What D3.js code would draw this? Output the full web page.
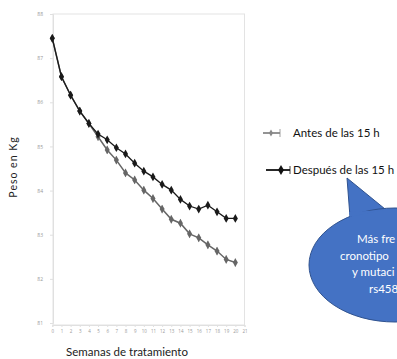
<!DOCTYPE html>
<html><head><meta charset="utf-8">
<script src="https://cdn.jsdelivr.net/npm/d3@7"></script>
<style>html,body{margin:0;padding:0;background:#fff;overflow:hidden}svg{display:block}</style>
</head><body>
<svg id="c" width="397" height="359"></svg>
<script>
const weeks = d3.range(0, 21);
const xTickLabels = d3.range(0, 22).map(String);
const yTicks = [81, 82, 83, 84, 85, 86, 87, 88];
const antes = [87.45, 86.58, 86.16, 85.80, 85.52, 85.22, 84.92, 84.69, 84.40, 84.24, 84.01, 83.82, 83.58, 83.35, 83.26, 83.02, 82.93, 82.77, 82.63, 82.44, 82.37];
const despues = [87.45, 86.58, 86.16, 85.80, 85.52, 85.28, 85.15, 84.97, 84.83, 84.62, 84.44, 84.31, 84.14, 84.01, 83.80, 83.65, 83.58, 83.67, 83.52, 83.37, 83.37];
const seriesNames = ["Antes de las 15 h", "Después de las 15 h"];
const bubbleLines = ["Más fre", "cronotipo", "y mutaci", "rs458"];

const svg = d3.select("#c");
const x = d3.scaleLinear().domain([0, 21]).range([52.3, 244.5]);
const y = d3.scaleLinear().domain([81, 88]).range([323, 14]);

// frame
svg.append("rect").attr("x", 53).attr("y", 14).attr("width", 191.5).attr("height", 311)
  .attr("fill", "none").attr("stroke", "#e3e3e3").attr("stroke-width", 1);

// y axis ticks
const ya = svg.append("g").attr("transform", "translate(53,0)")
  .call(d3.axisLeft(y).tickValues(yTicks).tickSize(3).tickFormat(d3.format("d")));
ya.select(".domain").attr("stroke", "#e0e0e0");
ya.selectAll(".tick line").attr("stroke", "#e0e0e0");
ya.selectAll("text").attr("font-size", 5).attr("fill", "#999").attr("font-family", "Open Sans").attr("x", -10);

// x axis ticks
const xa = svg.append("g").attr("transform", "translate(0,325)")
  .call(d3.axisBottom(x).tickValues(d3.range(0, 22)).tickSize(2).tickFormat(i => xTickLabels[i]));
xa.select(".domain").attr("stroke", "#e0e0e0");
xa.selectAll(".tick line").attr("stroke", "#e0e0e0");
xa.selectAll("text").attr("font-size", 4.5).attr("fill", "#999").attr("font-family", "Open Sans").attr("y", 5);

const line = d3.line().x((d, i) => x(i)).y(d => y(d));
const diamond = d3.symbol().type(d3.symbolDiamond).size(22);

function drawSeries(vals, color, err, w) {
  const g = svg.append("g");
  g.append("path").datum(vals).attr("d", line).attr("fill", "none").attr("stroke", color).attr("stroke-width", w);
  g.selectAll("line.err").data(vals).join("line").attr("class", "err")
    .attr("x1", (d, i) => x(i)).attr("x2", (d, i) => x(i))
    .attr("y1", d => y(d) - err).attr("y2", d => y(d) + err)
    .attr("stroke", color).attr("stroke-width", 0.8).attr("opacity", 0.6);
  g.selectAll("path.m").data(vals).join("path").attr("class", "m")
    .attr("d", diamond).attr("transform", (d, i) => `translate(${x(i)},${y(d)})`)
    .attr("fill", color);
}
drawSeries(antes, "#666", 4, 1.5);
drawSeries(despues, "#1a1a1a", 3, 1.3);

// legend
const leg = [{y: 133, color: "#888", x1: 263, x2: 280}, {y: 170, color: "#111", x1: 266, x2: 290}];
leg.forEach((l, i) => {
  svg.append("line").attr("x1", l.x1).attr("x2", l.x2).attr("y1", l.y).attr("y2", l.y)
    .attr("stroke", l.color).attr("stroke-width", 1.8);
  svg.append("path").attr("d", d3.symbol().type(d3.symbolDiamond).size(i ? 30 : 14)())
    .attr("transform", `translate(${l.x2 - 9},${l.y})`).attr("fill", l.color);
  svg.append("line").attr("x1", l.x2).attr("x2", l.x2).attr("y1", l.y - 4).attr("y2", l.y + 4)
    .attr("stroke", l.color).attr("stroke-width", 0.8);
  svg.append("text").attr("x", 293).attr("y", l.y + 4).text(seriesNames[i])
    .attr("font-family", "Lato").attr("font-size", 11.5).attr("fill", "#111");
});

// speech bubble
svg.append("path").attr("d", "M347,178 L350,217 L385,209 Z").attr("fill", "#4472C4").attr("stroke", "#2F528F").attr("stroke-width", 1);
svg.append("ellipse").attr("cx", 395).attr("cy", 265).attr("rx", 86).attr("ry", 57)
  .attr("fill", "#4472C4").attr("stroke", "#2F528F").attr("stroke-width", 1);
svg.append("path").attr("d", "M349,212 L350,217 L383,210 Z").attr("fill", "#4472C4");
const bx = [357, 340, 352, 369];
bubbleLines.forEach((t, i) => {
  svg.append("text").attr("x", bx[i]).attr("y", 243 + i * 16.5).text(t)
    .attr("font-family", "Lato").attr("font-size", 11.5).attr("fill", "#fff");
});

// axis titles
svg.append("text").attr("transform", "translate(17,167) rotate(-90)").attr("text-anchor", "middle")
  .text("Peso en Kg").attr("font-family", "Lato").attr("font-size", 10.5).attr("fill", "#222").attr("letter-spacing", 1);
svg.append("text").attr("x", 127).attr("y", 356).attr("text-anchor", "middle")
  .text("Semanas de tratamiento").attr("font-family", "Lato").attr("font-size", 11.5).attr("fill", "#222");
</script>
</body></html>
